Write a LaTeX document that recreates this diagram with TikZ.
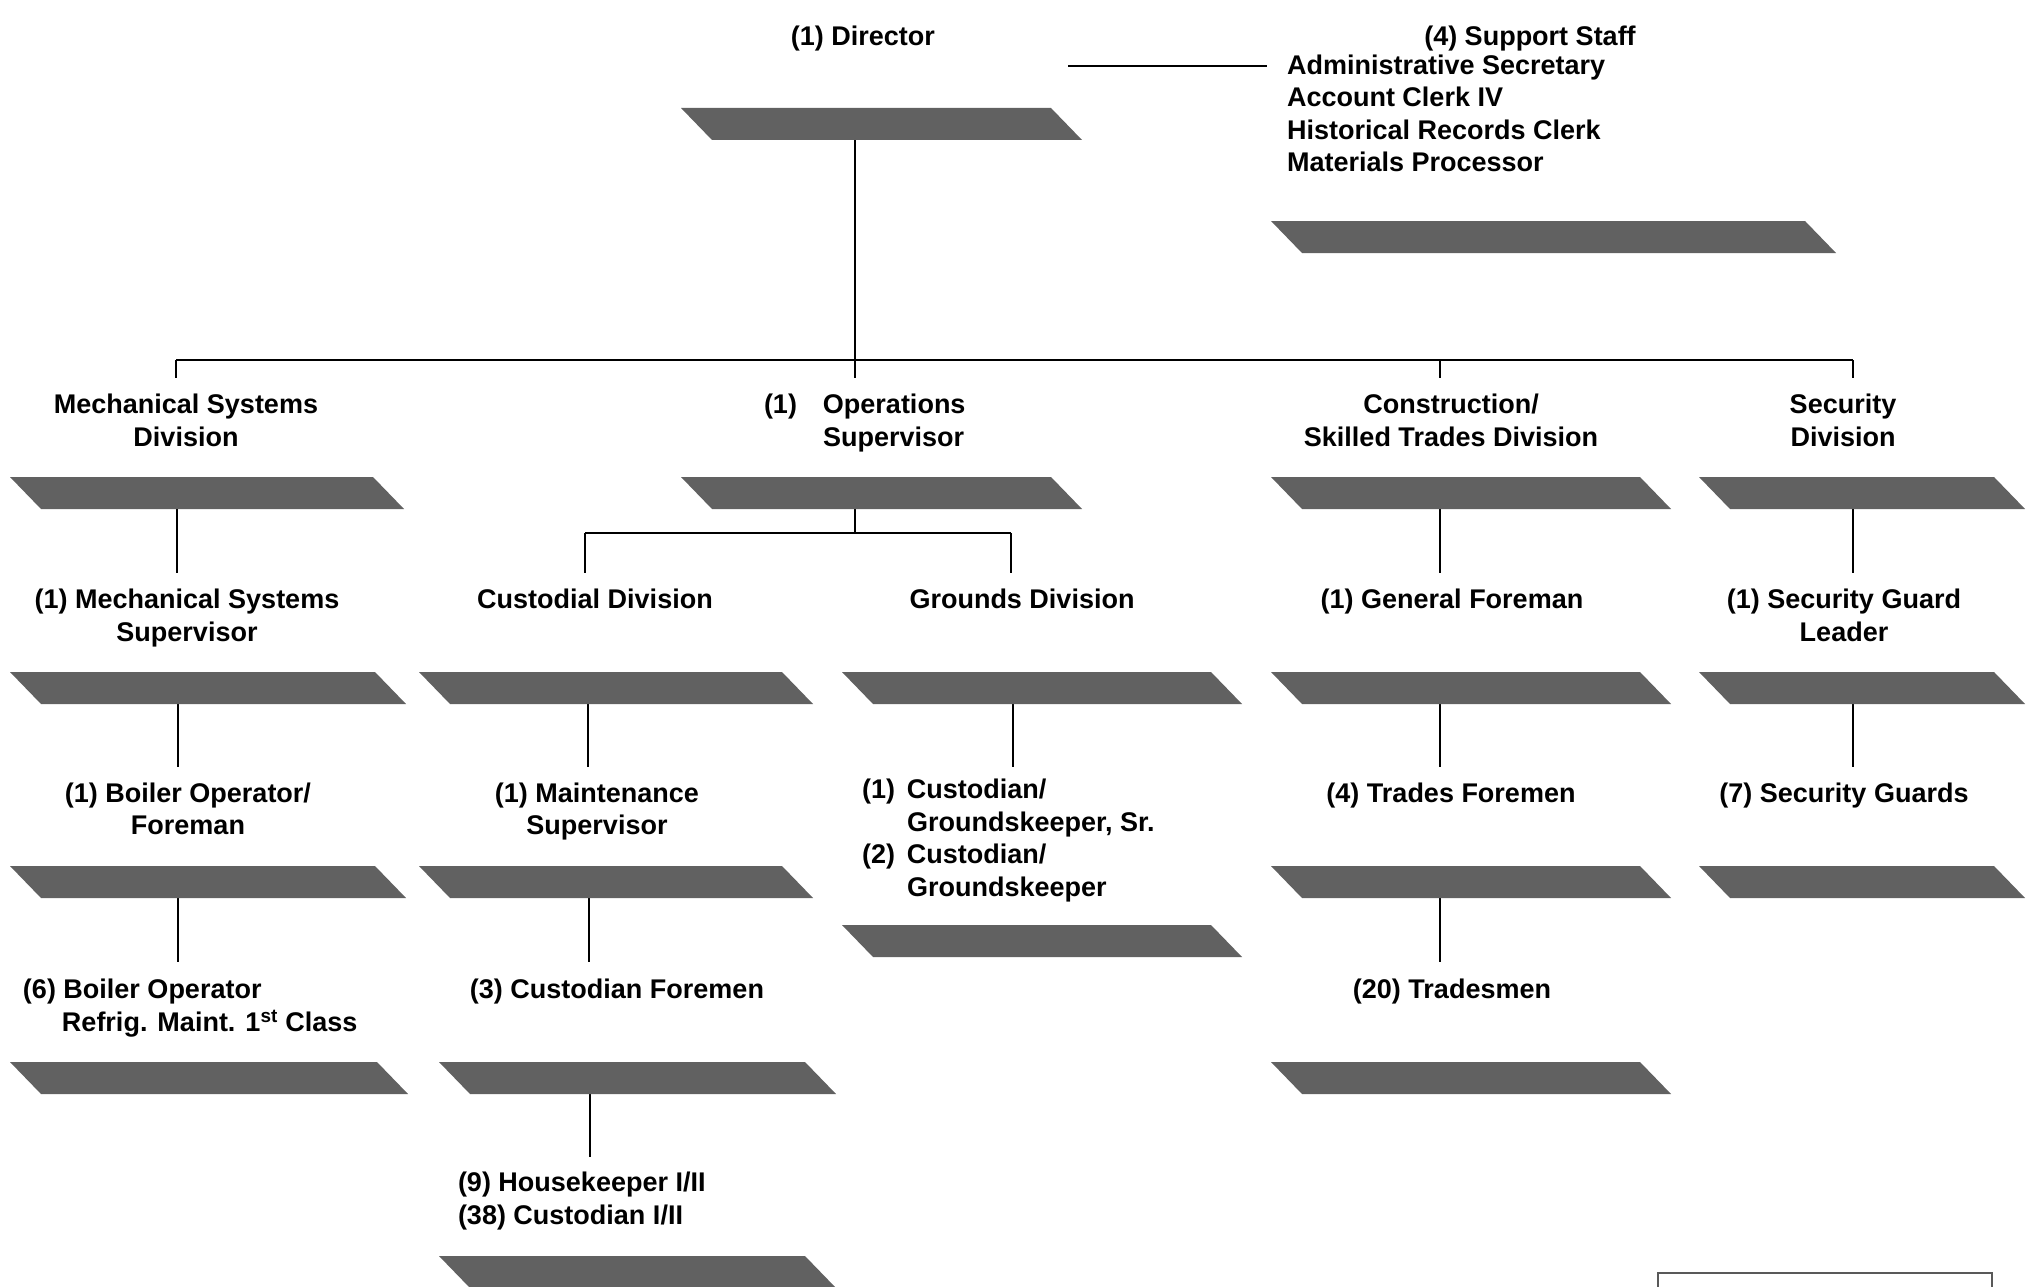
\documentclass[tikz,border=0pt]{standalone}
\usepackage{fontspec}
\setmainfont{Liberation Sans}
\newcommand\lab{\fontsize{27}{32.5}\selectfont\bfseries}
\newcommand\ctab[1]{\begin{tabular}{@{}c@{}}#1\end{tabular}}
\newcommand\ltab[1]{\begin{tabular}{@{}l@{}}#1\end{tabular}}
\newcommand\pbar[3]{\fill[barfill] (#1,#2) -- ({#3+5},#2) -- ({#3+36},{#2+32}) -- ({#1+31},{#2+32}) -- cycle;}
\tikzset{
  conn/.style={line width=1.4pt, black},
  barfill/.style={fill=black!62},
  lbl/.style={inner sep=0pt, outer sep=0pt, font=\lab}
}
\begin{document}
\begin{tikzpicture}[x=1pt, y=-1pt]
\useasboundingbox (0,0) rectangle (2038,1287);
\fill[white] (0,0) rectangle (2038,1287);

% ---------- coordinates for connectors ----------
\coordinate (dirS) at (855,140);
\coordinate (busM) at (855,360);
\coordinate (busL) at (176,360);
\coordinate (busR) at (1853,360);
\coordinate (busC) at (1440,360);
\coordinate (dropL) at (176,378);
\coordinate (dropM) at (855,378);
\coordinate (dropC) at (1440,378);
\coordinate (dropR) at (1853,378);
\coordinate (supW) at (1267,66);
\coordinate (dirE) at (1068,66);

\coordinate (mech1S) at (177,509); \coordinate (mech2N) at (177,573);
\coordinate (ops1S) at (855,509); \coordinate (opsBr) at (855,533);
\coordinate (brL) at (585,533); \coordinate (brR) at (1011,533);
\coordinate (custN) at (585,573); \coordinate (grndN) at (1011,573);
\coordinate (con1S) at (1440,509); \coordinate (genfN) at (1440,573);
\coordinate (sec1S) at (1853,509); \coordinate (sec2N) at (1853,573);

\coordinate (mech2S) at (178,704); \coordinate (boilN) at (178,767);
\coordinate (custS) at (588,704); \coordinate (maintN) at (588,767);
\coordinate (grndS) at (1013,704); \coordinate (gchN) at (1013,767);
\coordinate (genfS) at (1440,704); \coordinate (trfN) at (1440,767);
\coordinate (sec2S) at (1853,704); \coordinate (secgN) at (1853,767);

\coordinate (boilS) at (178,898); \coordinate (boilopN) at (178,962);
\coordinate (maintS) at (589,898); \coordinate (custfN) at (589,962);
\coordinate (trfS) at (1440,898); \coordinate (trdN) at (1440,962);

\coordinate (custfS) at (590,1094); \coordinate (hkN) at (590,1157);

% ---------- connectors ----------
\draw[conn] (dirS) -- (busM);
\draw[conn] (dirE) -- (supW);
\draw[conn] (busL) -- (busR);
\draw[conn, line width=2.4pt] (678,360) -- (busM);
\draw[conn] (busL) -- (dropL);
\draw[conn] (busM) -- (dropM);
\draw[conn] (busC) -- (dropC);
\draw[conn] (busR) -- (dropR);

\draw[conn] (mech1S) -- (mech2N);
\draw[conn] (ops1S) -- (opsBr);
\draw[conn] (brL) -- (brR);
\draw[conn, line width=2.2pt] (605,533) -- (brR);
\draw[conn] (brL) -- (custN);
\draw[conn] (brR) -- (grndN);
\draw[conn] (con1S) -- (genfN);
\draw[conn] (sec1S) -- (sec2N);

\draw[conn] (mech2S) -- (boilN);
\draw[conn] (custS) -- (maintN);
\draw[conn] (grndS) -- (gchN);
\draw[conn] (genfS) -- (trfN);
\draw[conn] (sec2S) -- (secgN);

\draw[conn] (boilS) -- (boilopN);
\draw[conn] (maintS) -- (custfN);
\draw[conn] (trfS) -- (trdN);

\draw[conn] (custfS) -- (hkN);

% ---------- bars ----------
\pbar{681}{108}{1046}
\pbar{1271}{221}{1800}
% row 1
\pbar{10}{477}{368}
\pbar{681}{477}{1046}
\pbar{1271}{477}{1635}
\pbar{1699}{477}{1989}
% row 2
\pbar{10}{672}{370}
\pbar{419}{672}{777}
\pbar{842}{672}{1206}
\pbar{1271}{672}{1635}
\pbar{1699}{672}{1989}
% row 3
\pbar{10}{866}{370}
\pbar{419}{866}{777}
\pbar{842}{925}{1206}
\pbar{1271}{866}{1635}
\pbar{1699}{866}{1989}
% row 4
\pbar{10}{1062}{372}
\pbar{439}{1062}{800}
\pbar{1271}{1062}{1635}
% row 5
\pbar{439}{1256}{800}

% ---------- texts ----------
\node[lbl] (dir) at (863,39) {\ctab{(1) Director}};
\node[lbl] (supT) at (1530,39) {\ctab{(4) Support Staff}};
\node[lbl, anchor=west] (supL) at (1287,116.5) {\begin{tabular}{@{}l@{}}Administrative Secretary\\Account Clerk IV\\Historical Records Clerk\\Materials Processor\end{tabular}};

\node[lbl] (mech1) at (186,423.5) {\ctab{Mechanical Systems\\Division}};
\node[lbl, anchor=west] (ops1) at (764,423.5) {\begin{tabular}{@{}l@{\hspace{26pt}}l@{}}(1) & Operations\\ & Supervisor\end{tabular}};
\node[lbl] (con1) at (1451,423.5) {\ctab{Construction/\\Skilled Trades Division}};
\node[lbl] (sec1) at (1843,423.5) {\ctab{Security\\Division}};

\node[lbl] (mech2) at (187,618.5) {\ctab{(1) Mechanical Systems\\Supervisor}};
\node[lbl] (cust) at (595,602) {\ctab{Custodial Division}};
\node[lbl] (grnd) at (1022,602) {\ctab{Grounds Division}};
\node[lbl] (genf) at (1452,602) {\ctab{(1) General Foreman}};
\node[lbl] (sec2) at (1844,618.5) {\ctab{(1) Security Guard\\Leader}};

\node[lbl] (boil) at (188,812) {\ctab{(1) Boiler Operator/\\Foreman}};
\node[lbl] (maint) at (597,812) {\ctab{(1) Maintenance\\Supervisor}};
\node[lbl, anchor=west] (gch) at (862,841) {\begin{tabular}{@{}l@{\hspace{12pt}}l@{}}(1) & Custodian/\\ & Groundskeeper, Sr.\\(2) & Custodian/\\ & Groundskeeper\end{tabular}};
\node[lbl] (trf) at (1451,796) {\ctab{(4) Trades Foremen}};
\node[lbl] (secg) at (1844,796) {\ctab{(7) Security Guards}};

\node[lbl, anchor=west] (boilop) at (23,1008.5) {\ltab{(6) Boiler Operator\\\hspace*{39pt}Refrig. Maint. 1\textsuperscript{st} Class}};
\node[lbl] (custf) at (617,992) {\ctab{(3) Custodian Foremen}};
\node[lbl] (trd) at (1452,992) {\ctab{(20) Tradesmen}};

\node[lbl, anchor=west] (hk) at (458,1201.5) {\ltab{(9) Housekeeper I/II\\(38) Custodian I/II}};

% ---------- box at lower right ----------
\draw[black!65, line width=2pt] (1658,1300) -- (1658,1273) -- (1992,1273) -- (1992,1300);
\end{tikzpicture}
\end{document}
